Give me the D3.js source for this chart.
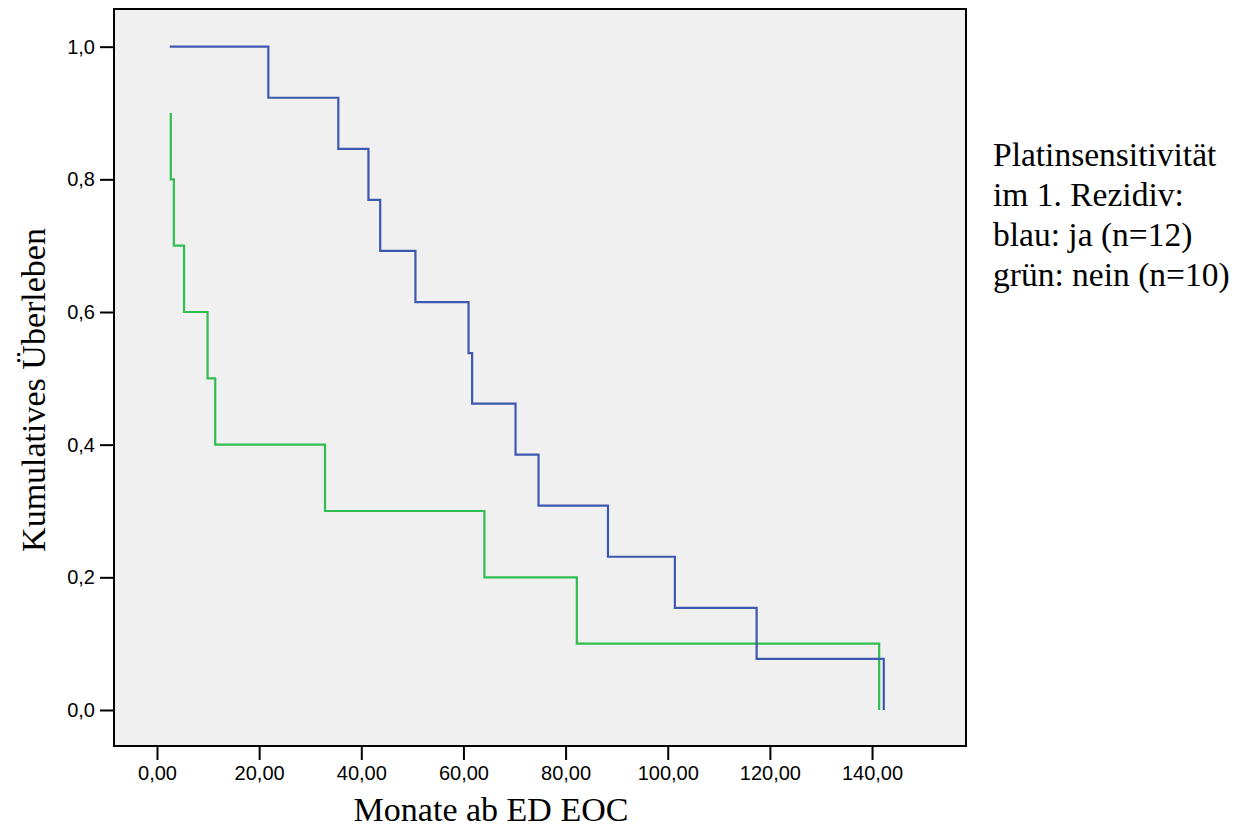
<!DOCTYPE html>
<html>
<head>
<meta charset="utf-8">
<script src="https://cdn.jsdelivr.net/npm/d3@7"></script>
<style>
  html, body { margin: 0; padding: 0; background: #ffffff; }
  svg { display: block; }
</style>
</head>
<body>
<svg id="chart" width="1244" height="828"></svg>
<script>
// ---- data ----
const xTicks = [0, 20, 40, 60, 80, 100, 120, 140];
const yTicks = [0, 0.2, 0.4, 0.6, 0.8, 1.0];
const blueTimes = [2.5, 21.8, 35.5, 41.4, 43.7, 50.6, 61.0, 61.7, 70.2, 74.7, 88.3, 101.4, 117.4, 142.3];
const blueSurv  = [1.0, 0.923, 0.846, 0.769, 0.692, 0.615, 0.538, 0.462, 0.385, 0.308, 0.231, 0.154, 0.077, 0.0];
const greenTimes = [2.7, 2.7, 3.3, 5.3, 9.9, 11.4, 32.9, 64.1, 82.2, 141.4];
const greenSurv  = [0.9, 0.8, 0.7, 0.6, 0.5, 0.4, 0.3, 0.2, 0.1, 0.0];
const legendLines = ["Platinsensitivität", "im 1. Rezidiv:", "blau: ja (n=12)", "grün: nein (n=10)"];
const xTitle = "Monate ab ED EOC";
const yTitle = "Kumulatives Überleben";

// ---- layout ----
const frame = { left: 114, right: 966, top: 9, bottom: 746 };
const svg = d3.select("#chart");

const x = d3.scaleLinear().domain([-8.42, 158.4]).range([frame.left, frame.right]);
const y = d3.scaleLinear().domain([-0.0543, 1.0568]).range([frame.bottom, frame.top]);

const fmtX = v => d3.format(".2f")(v).replace(".", ",");
const fmtY = v => d3.format(".1f")(v).replace(".", ",");

// plot background
svg.append("rect")
  .attr("x", frame.left).attr("y", frame.top)
  .attr("width", frame.right - frame.left).attr("height", frame.bottom - frame.top)
  .attr("fill", "#f0f0f0");

// axes
const xAxis = d3.axisBottom(x).tickValues(xTicks).tickFormat(fmtX).tickSize(14).tickPadding(6);
const gx = svg.append("g").attr("transform", `translate(0,${frame.bottom})`).call(xAxis);
gx.select(".domain").remove();
gx.selectAll(".tick line").attr("stroke", "#000").attr("stroke-width", 2);
gx.selectAll(".tick text").attr("font-family", "'Liberation Sans', Arial, sans-serif")
  .attr("font-size", 20).attr("fill", "#000");

const yAxis = d3.axisLeft(y).tickValues(yTicks).tickFormat(fmtY).tickSize(14).tickPadding(5);
const gy = svg.append("g").attr("transform", `translate(${frame.left},0)`).call(yAxis);
gy.select(".domain").remove();
gy.selectAll(".tick line").attr("stroke", "#000").attr("stroke-width", 2);
gy.selectAll(".tick text").attr("font-family", "'Liberation Sans', Arial, sans-serif")
  .attr("font-size", 20).attr("fill", "#000");

// curves
const line = d3.line().x(d => x(d[0])).y(d => y(d[1])).curve(d3.curveStepAfter);
const blue = blueTimes.map((t, i) => [t, blueSurv[i]]);
const green = greenTimes.map((t, i) => [t, greenSurv[i]]);

svg.append("path").datum(green).attr("d", line)
  .attr("fill", "none").attr("stroke", "#2fbe4f").attr("stroke-width", 2.2);
svg.append("path").datum(blue).attr("d", line)
  .attr("fill", "none").attr("stroke", "#3d58b0").attr("stroke-width", 2.2);

// frame
svg.append("rect")
  .attr("x", frame.left).attr("y", frame.top)
  .attr("width", frame.right - frame.left).attr("height", frame.bottom - frame.top)
  .attr("fill", "none").attr("stroke", "#000").attr("stroke-width", 2);

// axis titles
svg.append("text")
  .attr("x", 491).attr("y", 821)
  .attr("text-anchor", "middle")
  .attr("font-family", "'Liberation Serif', 'Times New Roman', serif")
  .attr("font-size", 34).attr("fill", "#000")
  .text(xTitle);

svg.append("text")
  .attr("transform", "translate(45,390) rotate(-90)")
  .attr("text-anchor", "middle")
  .attr("font-family", "'Liberation Serif', 'Times New Roman', serif")
  .attr("font-size", 34).attr("fill", "#000")
  .text(yTitle);

// legend text
const leg = svg.append("text")
  .attr("font-family", "'Liberation Serif', 'Times New Roman', serif")
  .attr("font-size", 33.5).attr("fill", "#000");
legendLines.forEach((s, i) => {
  leg.append("tspan").attr("x", 993).attr("y", 166 + i * 40).text(s);
});
</script>
</body>
</html>
